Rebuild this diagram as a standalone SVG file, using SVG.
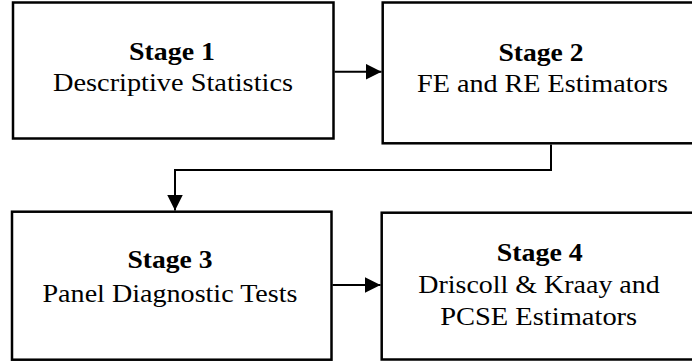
<svg xmlns="http://www.w3.org/2000/svg" width="692" height="362" viewBox="0 0 692 362">
  <defs>
    <marker id="arrow" markerUnits="userSpaceOnUse" markerWidth="16" markerHeight="16" refX="16" refY="8" orient="auto">
      <path d="M0,0 L16,8 L0,16 Z" fill="#000000"/>
    </marker>
  </defs>
  <rect width="692" height="362" fill="#ffffff"/>

  <!-- stage boxes; labels are slightly widened with textLength -->
  <g id="stage1">
    <rect x="13" y="2.5" width="320.5" height="136" fill="#ffffff" stroke="#000000" stroke-width="2.5"/>
    <text x="172" y="60" text-anchor="middle" font-family="Liberation Serif" font-size="26" font-weight="bold" textLength="86" lengthAdjust="spacingAndGlyphs">Stage 1</text>
    <text x="173" y="91" text-anchor="middle" font-family="Liberation Serif" font-size="26" textLength="240" lengthAdjust="spacingAndGlyphs">Descriptive Statistics</text>
  </g>

  <g id="stage2">
    <rect x="382.7" y="2.5" width="320" height="140.8" fill="#ffffff" stroke="#000000" stroke-width="2.5"/>
    <text x="541" y="61" text-anchor="middle" font-family="Liberation Serif" font-size="26" font-weight="bold" textLength="85" lengthAdjust="spacingAndGlyphs">Stage 2</text>
    <text x="542.5" y="91.5" text-anchor="middle" font-family="Liberation Serif" font-size="26" textLength="251" lengthAdjust="spacingAndGlyphs">FE and RE Estimators</text>
  </g>

  <g id="stage3">
    <rect x="12" y="211.7" width="319.5" height="148" fill="#ffffff" stroke="#000000" stroke-width="2.5"/>
    <text x="170" y="268" text-anchor="middle" font-family="Liberation Serif" font-size="26" font-weight="bold" textLength="85" lengthAdjust="spacingAndGlyphs">Stage 3</text>
    <text x="170" y="301.5" text-anchor="middle" font-family="Liberation Serif" font-size="26" textLength="255" lengthAdjust="spacingAndGlyphs">Panel Diagnostic Tests</text>
  </g>

  <g id="stage4">
    <rect x="381.7" y="212.7" width="320" height="146.8" fill="#ffffff" stroke="#000000" stroke-width="2.5"/>
    <text x="539.7" y="260.5" text-anchor="middle" font-family="Liberation Serif" font-size="26" font-weight="bold" textLength="86" lengthAdjust="spacingAndGlyphs">Stage 4</text>
    <text x="539" y="293" text-anchor="middle" font-family="Liberation Serif" font-size="26" textLength="241.5" lengthAdjust="spacingAndGlyphs">Driscoll &amp; Kraay and</text>
    <text x="538.7" y="325" text-anchor="middle" font-family="Liberation Serif" font-size="26" textLength="197" lengthAdjust="spacingAndGlyphs">PCSE Estimators</text>
  </g>

  <g id="connectors" fill="none" stroke="#000000" stroke-width="2">
    <line x1="334.5" y1="71.7" x2="381.5" y2="71.7" marker-end="url(#arrow)"/>
    <polyline points="551,144.5 551,170 175,170 175,210.5" marker-end="url(#arrow)"/>
    <line x1="332.5" y1="285" x2="380.5" y2="285" marker-end="url(#arrow)"/>
  </g>
</svg>
